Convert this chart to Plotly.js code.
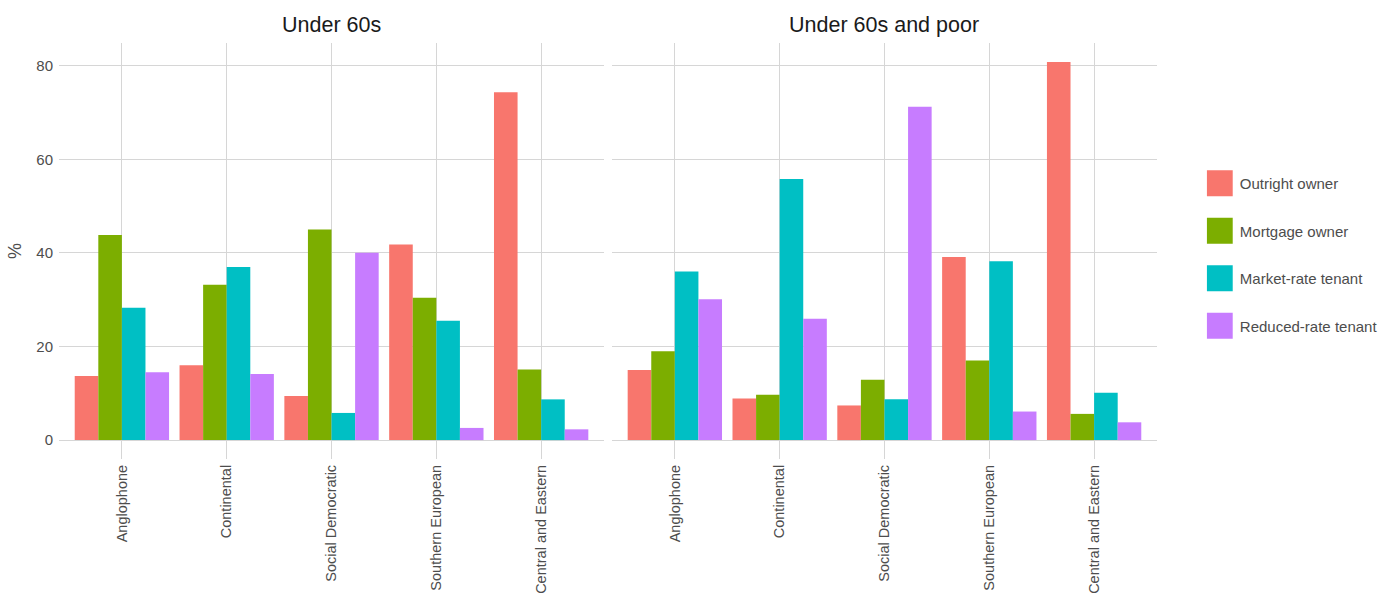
<!DOCTYPE html>
<html>
<head>
<meta charset="utf-8">
<script src="https://cdn.plot.ly/plotly-3.0.1.min.js"></script>
<style>html,body{margin:0;padding:0;background:#fff;}#chart{width:1399px;height:599px;}</style>
</head>
<body>
<div id="chart"></div>
<script>
// ---- data ----
const categories = ['Anglophone', 'Continental', 'Social Democratic', 'Southern European', 'Central and Eastern'];
const seriesNames = ['Outright owner', 'Mortgage owner', 'Market-rate tenant', 'Reduced-rate tenant'];
const panelTitles = ['Under 60s', 'Under 60s and poor'];
const yTickValues = [0, 20, 40, 60, 80];

// Under 60s
const u60_outright = [13.7, 16.0, 9.4, 41.8, 74.3];
const u60_mortgage = [43.8, 33.2, 45.0, 30.4, 15.1];
const u60_market   = [28.3, 37.0, 5.8, 25.5, 8.7];
const u60_reduced  = [14.5, 14.1, 40.0, 2.6, 2.3];

// Under 60s and poor
const poor_outright = [15.0, 8.9, 7.4, 39.1, 80.8];
const poor_mortgage = [19.0, 9.7, 12.9, 17.0, 5.6];
const poor_market   = [36.0, 55.8, 8.7, 38.2, 10.1];
const poor_reduced  = [30.1, 25.9, 71.2, 6.1, 3.8];

const colors = ['#F8766D', '#7CAE00', '#00BFC4', '#C77CFF'];

const panel1 = [u60_outright, u60_mortgage, u60_market, u60_reduced];
const panel2 = [poor_outright, poor_mortgage, poor_market, poor_reduced];

const traces = [];
[panel1, panel2].forEach((panel, pi) => {
  panel.forEach((vals, si) => {
    traces.push({
      type: 'bar',
      x: categories,
      y: vals,
      name: seriesNames[si],
      legendgroup: seriesNames[si],
      showlegend: pi === 0,
      marker: {color: colors[si], line: {width: 0}},
      xaxis: pi === 0 ? 'x' : 'x2',
      yaxis: pi === 0 ? 'y' : 'y2',
      hovertemplate: '%{x}<br>' + seriesNames[si] + ': %{y}%<extra></extra>'
    });
  });
});

const fontFam = '"Liberation Sans", Arial, sans-serif';
const grey = '#4d4d4d';
const gridCol = '#d6d6d6';

const xCommon = {
  type: 'category',
  range: [-0.6, 4.6],
  showgrid: true,
  gridcolor: gridCol,
  gridwidth: 1,
  zeroline: false,
  showline: false,
  ticks: '',
  tickangle: -90,
  tickfont: {family: fontFam, size: 14.5, color: grey},
  ticklabelstandoff: 2,
  fixedrange: true
};
const yCommon = {
  range: [-4.04, 84.84],
  tickvals: yTickValues,
  showgrid: true,
  gridcolor: gridCol,
  gridwidth: 1.4,
  zeroline: false,
  showline: false,
  ticks: '',
  tickfont: {family: fontFam, size: 15, color: grey},
  fixedrange: true
};

const layout = {
  width: 1399,
  height: 599,
  margin: {l: 59, r: 242, t: 43, b: 140},
  paper_bgcolor: '#ffffff',
  plot_bgcolor: '#ffffff',
  font: {family: fontFam, color: grey},
  barmode: 'group',
  bargap: 0.1,
  bargroupgap: 0,
  showlegend: true,
  legend: {
    x: 1.039, xanchor: 'left',
    y: 0.4916, yanchor: 'middle',
    font: {family: fontFam, size: 15, color: grey},
    tracegroupgap: 25,
    bgcolor: 'rgba(0,0,0,0)'
  },
  xaxis: Object.assign({}, xCommon, {domain: [0, 0.4964], anchor: 'y'}),
  xaxis2: Object.assign({}, xCommon, {domain: [0.5036, 1], anchor: 'y2'}),
  yaxis: Object.assign({}, yCommon, {
    anchor: 'x',
    ticklabelstandoff: 5,
    title: {text: '%', font: {family: fontFam, size: 18, color: grey}, standoff: 10}
  }),
  yaxis2: Object.assign({}, yCommon, {anchor: 'x2', matches: 'y', showticklabels: false}),
  annotations: panelTitles.map((t, i) => ({
    text: t,
    xref: i === 0 ? 'x domain' : 'x2 domain',
    yref: 'paper',
    x: 0.5, y: 1, xanchor: 'center', yanchor: 'bottom', yshift: 4,
    showarrow: false,
    font: {family: fontFam, size: 21.5, color: '#1a1a1a'}
  }))
};

Plotly.newPlot('chart', traces, layout, {displayModeBar: false}).then(gd => {
  gd.querySelectorAll('.legend .legendpoints path').forEach(p => {
    const t = p.getAttribute('transform') || '';
    p.setAttribute('transform', t + ' scale(2.15)');
  });
});
</script>
</body>
</html>
